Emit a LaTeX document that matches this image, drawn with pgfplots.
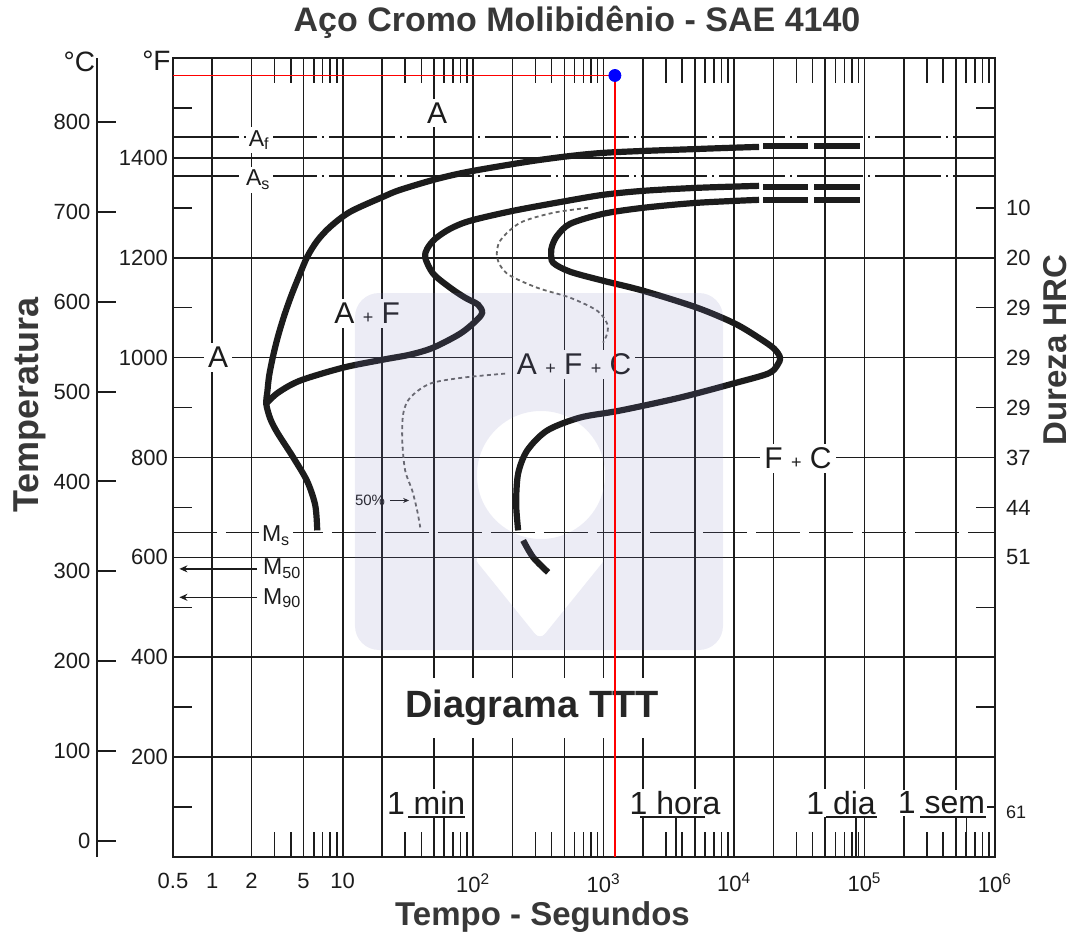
\documentclass[border=0pt]{standalone}
\usepackage{fontspec}
\setmainfont{Liberation Sans}
\usepackage{pgfplots}
\pgfplotsset{compat=1.18}
\usetikzlibrary{arrows.meta}

\definecolor{ink}{HTML}{1C1C1C}
\definecolor{titlegray}{HTML}{383838}
\definecolor{wmark}{RGB}{128,128,190}

\tikzset{
  tcurve/.style={ink, line width=3.1pt, smooth, tension=0.5},
  tdash/.style={ink, line width=3.1pt},
  tdot/.style={black!60, line width=0.9pt, dash pattern=on 2pt off 1.6pt, smooth, tension=0.5},
  region/.style={font=\fontsize{15}{17}\selectfont, text=ink, fill=white, inner sep=2pt},
  crit/.style={font=\fontsize{11.5}{13}\selectfont, text=ink, fill=white, inner sep=1.5pt},
  hrc/.style={font=\fontsize{11}{13}\selectfont, text=ink, anchor=west, xshift=2pt},
  tlabel/.style={font=\fontsize{16}{18}\selectfont, text=ink, fill=white, inner sep=1pt},
}
\newcommand{\pl}{{\fontsize{9}{9}\selectfont+}}

\begin{document}
\begin{tikzpicture}
\useasboundingbox (-86.5pt,-38.5pt) rectangle (450pt,428.5pt);

% ---------- main TTT chart: time in s (log), temperature in F ----------
\begin{axis}[at={(0pt,0pt)}, anchor=south west, scale only axis,
  width=411pt, height=399.5pt, xmode=log,
  xmin=0.5, xmax=1e6, ymin=0, ymax=1600, clip=false,
  axis line style={line width=1.3pt, ink},
  xtick={1,2,5,10,20,50,100,200,500,1000,2000,5000,10000,20000,50000,100000,200000,500000},
  xticklabels={},
  minor xtick={3,4,6,7,8,9,30,40,60,70,80,90,300,400,600,700,800,900,3000,4000,6000,7000,8000,9000,30000,40000,60000,70000,80000,90000,300000,400000,600000,700000,800000,900000},
  extra x ticks={0.5,1,2,5,10,100,1000,10000,100000,1000000},
  extra x tick labels={0.5,1,2,5,10,10\textsuperscript{2},10\textsuperscript{3},10\textsuperscript{4},10\textsuperscript{5},10\textsuperscript{6}},
  extra x tick style={grid=none, major tick length=0pt},
  ytick={200,400,600,800,1000,1200,1400},
  yticklabels={200,400,600,800,1000,1200,1400},
  extra y ticks={100,300,500,700,900,1100,1300,1500},
  extra y tick labels={},
  extra y tick style={grid=none, major tick length=9.5pt},
  grid=major,
  major grid style={ink, line width=0.85pt},
  tick align=inside,
  major tick length=0pt,
  minor tick length=12.5pt,
  tick style={ink, line width=0.75pt},
  ticklabel style={font=\fontsize{11}{13}\selectfont, text=ink},
  xticklabel style={inner sep=1pt, yshift=-7pt},
  yticklabel style={xshift=1pt},
]

% critical temperatures
\addplot[ink, line width=0.75pt, dash pattern=on 33pt off 2.5pt on 1pt off 2.5pt] coordinates {(0.5,1442) (1e6,1442)};
\addplot[ink, line width=0.75pt, dash pattern=on 33pt off 2.5pt on 1pt off 2.5pt] coordinates {(0.5,1364) (1e6,1364)};
\addplot[ink, line width=0.75pt, dash pattern=on 22pt off 4.5pt] coordinates {(0.5,650) (1e6,650)};

% start of transformation (outer curve)
\addplot[tcurve] coordinates {
 (15540,1422) (5489,1418) (991,1410) (326,1396) (100,1374) (53.0,1358)
 (27.6,1336) (20.4,1322) (11.4,1292) (8.02,1262) (6.38,1234) (5.35,1202)
 (4.64,1164) (4.03,1124) (3.56,1084) (3.20,1044) (2.93,1004) (2.73,964)
 (2.64,930) (2.59,908) (2.78,878) (3.15,850) (4.18,800) (5.35,752) (6.16,704) (6.38,654)};
\addplot[tdash] coordinates {(16680,1424) (36900,1424)};
\addplot[tdash] coordinates {(41020,1424) (92350,1424)};

% ferrite start / carbide start
\addplot[tcurve] coordinates {
 (15540,1344) (5206,1340) (2007,1334) (991,1326) (525,1314) (202.5,1294)
 (94.8,1274) (66.6,1258) (51.2,1238) (44.4,1218) (42.9,1200) (49.4,1168)
 (66.6,1140) (86.8,1120) (109.2,1106) (117.2,1090) (105.4,1074) (79.5,1048)
 (49.4,1020) (32.9,1006) (20.4,996) (10.1,980) (4.72,954) (3.20,930) (2.59,908)};
\addplot[tdash] coordinates {(16680,1342) (36900,1342)};
\addplot[tdash] coordinates {(41020,1342) (92350,1342)};

% end of transformation
\addplot[tcurve] coordinates {
 (15540,1316) (5206,1310) (2007,1300) (991,1288) (553.7,1268) (440,1244)
 (403,1224) (396,1210) (410,1190) (553.7,1172) (991,1154) (2007,1134)
 (5206,1100) (10180,1068) (15820,1038) (20250,1018) (22520,1000) (21360,984)
 (18220,968) (9824,948) (3857,920) (1338,894) (660.6,880) (369,854)
 (259.4,814) (221.2,768) (213.5,708) (221.2,654)};
\addplot[tcurve] coordinates {(241.6,634) (288.4,600) (375.5,570)};
\addplot[tdash] coordinates {(16680,1316) (36900,1316)};
\addplot[tdash] coordinates {(41020,1316) (92350,1316)};

% 50 % transformed
\addplot[tdot] coordinates {
 (760.6,1300) (410,1290) (229.2,1270) (161,1234) (152.7,1200) (182.2,1168)
 (309.4,1140) (553.7,1120) (891.9,1094) (1064,1068) (1064,1048) (991,1030)};
\addplot[tdot] coordinates {
 (175.9,968) (83.8,960) (46.8,948) (32.9,920) (29.1,888) (28.6,834)
 (30.1,774) (34.1,734) (37.2,694) (39.3,660)};

% phase fields
\node[region] at (axis cs:53,1490) {A};
\node[region] at (axis cs:1.11,1000) {A};
\node[region] at (axis cs:15.4,1088) {A \pl\ F};
\node[region] at (axis cs:594,986) {A \pl\ F \pl\ C};
\node[region] at (axis cs:30900,798) {F \pl\ C};

% critical temperature labels
\node[crit] at (axis cs:2.29,1436) {A\textsubscript{f}};
\node[crit] at (axis cs:2.25,1356) {A\textsubscript{s}};
\node[crit] at (axis cs:3.09,643) {M\textsubscript{s}};
\node[crit, fill=none] at (axis cs:3.44,577) {M\textsubscript{50}};
\node[crit, fill=none] at (axis cs:3.44,518) {M\textsubscript{90}};
\draw[ink, line width=0.8pt, -{Stealth[length=4pt,width=3.5pt]}] (axis cs:2.21,577) -- (axis cs:0.56,577);
\draw[ink, line width=0.8pt, -{Stealth[length=4pt,width=3.5pt]}] (axis cs:2.21,520) -- (axis cs:0.56,520);

% 50 % marker
\node[font=\fontsize{7.5}{8}\selectfont, text=ink, inner sep=0.5pt] at (axis cs:16.2,714) {50\%};
\draw[ink, line width=0.6pt, -{Stealth[length=3pt,width=2.5pt]}] (axis cs:23.1,714) -- (axis cs:32.3,714);

% diagram caption
\node[font=\bfseries\fontsize{19}{22}\selectfont, text=black!85, fill=white, inner ysep=6pt, inner xsep=2pt] at (axis cs:283,298) {Diagrama TTT};

% time references
\node[tlabel] at (axis cs:43.6,108) {1 min};
\node[tlabel] at (axis cs:3531,108) {1 hora};
\node[tlabel] at (axis cs:66070,108) {1 dia};
\node[tlabel] at (axis cs:389000,108) {1 sem};
\draw[ink, line width=1.1pt] (axis cs:31.8,80) -- (axis cs:86.8,80);
\draw[ink, line width=1.1pt] (axis cs:1904,80) -- (axis cs:5995,80);
\draw[ink, line width=1.1pt] (axis cs:50700,80) -- (axis cs:124700,80);
\draw[ink, line width=1.1pt] (axis cs:266300,80) -- (axis cs:853400,80);
\draw[ink, line width=0.9pt] (axis cs:60,80) -- (axis cs:60,0);
\draw[ink, line width=0.9pt] (axis cs:3600,80) -- (axis cs:3600,0);
\draw[ink, line width=0.9pt] (axis cs:86400,80) -- (axis cs:86400,0);
\draw[ink, line width=0.9pt] (axis cs:604800,80) -- (axis cs:604800,0);

% hardness scale (HRC)
\node[hrc] at (axis cs:1e6,1300) {10};
\node[hrc] at (axis cs:1e6,1200) {20};
\node[hrc] at (axis cs:1e6,1100) {29};
\node[hrc] at (axis cs:1e6,1000) {29};
\node[hrc] at (axis cs:1e6,900) {29};
\node[hrc] at (axis cs:1e6,800) {37};
\node[hrc] at (axis cs:1e6,700) {44};
\node[hrc] at (axis cs:1e6,600) {51};
\node[hrc, font=\fontsize{9}{10}\selectfont] at (axis cs:1e6,90) {61};

\node[anchor=east, font=\fontsize{14}{16}\selectfont, text=ink, inner sep=1pt] at (axis cs:0.5,1594) {°F};
\end{axis}

% ---------- Celsius scale ----------
\begin{axis}[at={(-37.75pt,0pt)}, anchor=south west, scale only axis,
  width=20pt, height=399.5pt, xmin=0, xmax=1, ymin=-17.78, ymax=871.11,
  axis x line=none, axis y line=left,
  axis line style={-, line width=1pt, ink},
  ytick={0,100,200,300,400,500,600,700,800},
  yticklabels={0,100,200,300,400,500,600,700,800},
  tick align=inside, major tick length=9.5pt,
  tick style={ink, line width=1pt},
  ticklabel style={font=\fontsize{11}{13}\selectfont, text=ink},
  clip=false]
\addplot[draw=none] coordinates {(0,0) (1,800)};
\node[anchor=east, font=\fontsize{14}{16}\selectfont, text=ink, inner sep=1pt] at (rel axis cs:0,0.995) {°C};
\end{axis}

% faint watermark: rounded panel with a round head and a pointed base
\fill[wmark, opacity=0.15, even odd rule]
  [rounded corners=12pt] (91pt,103.5pt) rectangle (275pt,282pt)
  [sharp corners] (184pt,191pt) circle[radius=32pt]
  [rounded corners=4pt] (150pt,150pt) -- (217pt,150pt) -- (183.5pt,108.5pt) -- cycle;

% ---------- marked point ----------
\begin{axis}[at={(0pt,0pt)}, anchor=south west, scale only axis,
  width=411pt, height=399.5pt, xmode=log,
  xmin=0.5, xmax=1e6, ymin=0, ymax=1600, clip=false, hide axis]
\addplot[red, line width=0.8pt] coordinates {(0.5,1565) (1220,1565) (1220,0)};
\addplot[only marks, mark=*, mark size=3pt, color=blue] coordinates {(1220,1565)};
\end{axis}

% titles
\node[font=\bfseries\fontsize{17}{20}\selectfont, text=titlegray] at (202pt,417.5pt) {Aço Cromo Molibidênio - SAE 4140};
\node[font=\bfseries\fontsize{16.5}{19}\selectfont, text=titlegray, inner sep=1pt] at (184.75pt,-30pt) {Tempo - Segundos};
\node[font=\bfseries\fontsize{18}{21}\selectfont, text=titlegray, rotate=90] at (-71.5pt,226pt) {Temperatura};
\node[font=\bfseries\fontsize{16.5}{19}\selectfont, text=titlegray, rotate=90] at (441pt,253.5pt) {Dureza HRC};
\end{tikzpicture}
\end{document}
